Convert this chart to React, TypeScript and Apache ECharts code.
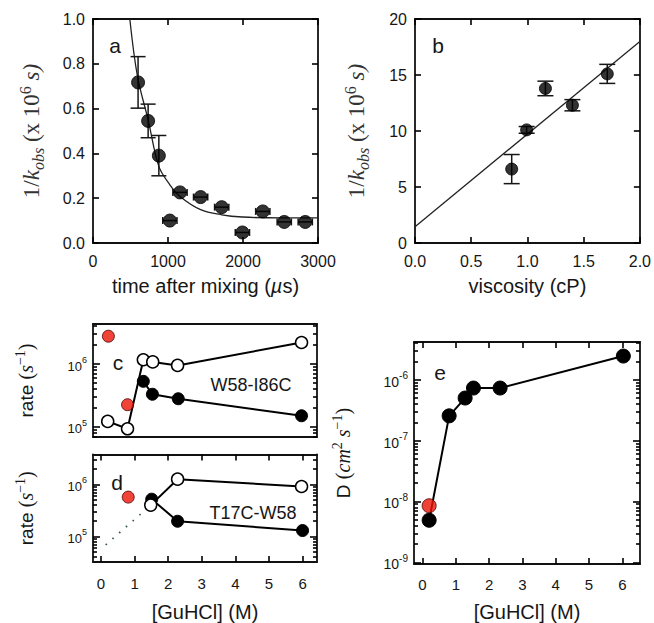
import React, { useEffect, useRef } from 'react';
import * as echarts from 'echarts';

// ---------- Panel a ----------
const aTime = [601, 735, 878, 1025, 1160, 1435, 1716, 1992, 2264, 2550, 2830];
const aInvK = [0.717, 0.545, 0.39, 0.1, 0.226, 0.205, 0.16, 0.047, 0.141, 0.094, 0.094];
const aYErr = [0.115, 0.075, 0.09, 0, 0, 0, 0, 0, 0, 0, 0];
const aXErr = [0, 0, 0, 95, 95, 95, 95, 95, 95, 95, 95];
const aFitTime = [491, 593, 735, 878, 1025, 1160, 1435, 1716, 1992, 2500, 3000];
const aFitInvK = [1.0, 0.744, 0.55, 0.342, 0.26, 0.208, 0.149, 0.126, 0.116, 0.112, 0.112];

// ---------- Panel b ----------
const bVisc = [0.86, 0.993, 1.16, 1.4, 1.71];
const bInvK = [6.6, 10.1, 13.8, 12.3, 15.1];
const bYErr = [1.3, 0.3, 0.65, 0.5, 0.85];
const bFitVisc = [0, 2];
const bFitInvK = [1.45, 18.0];

// ---------- Panel c (W58-I86C) ----------
const cOpenM = [0.2, 0.79, 1.26, 1.54, 2.28, 5.97];
const cOpenRate = [1.22e5, 0.93e5, 1.17e6, 1.08e6, 0.95e6, 2.2e6];
const cFilledM = [1.26, 1.53, 2.3, 5.97];
const cFilledRate = [5.3e5, 3.3e5, 2.8e5, 1.5e5];
const cRedM = [0.22, 0.79];
const cRedRate = [2.77e6, 2.25e5];

// ---------- Panel d (T17C-W58) ----------
const dDotM = [0.14, 1.48];
const dDotRate = [6.9e4, 4.0e5];
const dOpenM = [1.48, 2.28, 5.97];
const dOpenRate = [4.0e5, 1.26e6, 9.1e5];
const dFilledM = [1.51, 2.28, 6.0];
const dFilledRate = [5.2e5, 1.96e5, 1.3e5];
const dRedM = [0.81];
const dRedRate = [5.7e5];

// ---------- Panel e ----------
const eM = [0.2, 0.8, 1.28, 1.53, 2.33, 6.03];
const eD = [4.9e-9, 2.55e-7, 5.0e-7, 7.3e-7, 7.3e-7, 2.45e-6];
const eRedM = [0.2];
const eRedD = [8.5e-9];

// ---------- Tick values ----------
const aXTicks = [0, 1000, 2000, 3000];
const aYTicks = [0, 0.2, 0.4, 0.6, 0.8, 1.0];
const bXTicks = [0, 0.5, 1.0, 1.5, 2.0];
const bYTicks = [0, 5, 10, 15, 20];
const guTicks = [0, 1, 2, 3, 4, 5, 6];
const cMajor = [1e5, 1e6];
const cMinor = [7e4, 8e4, 9e4, 2e5, 3e5, 4e5, 5e5, 6e5, 7e5, 8e5, 9e5, 2e6, 3e6, 4e6];
const dMajor = [1e5, 1e6];
const dMinor = [4e4, 5e4, 6e4, 7e4, 8e4, 9e4, 2e5, 3e5, 4e5, 5e5, 6e5, 7e5, 8e5, 9e5, 2e6, 3e6];
const eMajor = [1e-9, 1e-8, 1e-7, 1e-6];
const eMinor = [
  2e-9, 3e-9, 4e-9, 5e-9, 6e-9, 7e-9, 8e-9, 9e-9,
  2e-8, 3e-8, 4e-8, 5e-8, 6e-8, 7e-8, 8e-8, 9e-8,
  2e-7, 3e-7, 4e-7, 5e-7, 6e-7, 7e-7, 8e-7, 9e-7,
  2e-6, 3e-6, 4e-6,
];

const SANS = '"Liberation Sans", Arial, Helvetica, sans-serif';
const SERIF = '"Liberation Serif", "DejaVu Serif", serif';
const INK = '#161616';
const RED = '#ee1508';

const zip = (xs: number[], ys: number[]) => xs.map((x, i) => [x, ys[i]]);

const powRich = (size: number) => ({
  b: { fontSize: size, fontFamily: SANS, color: INK, lineHeight: size + 4, verticalAlign: 'bottom' },
  s: { fontSize: Math.round(size * 0.68), fontFamily: SANS, color: INK, lineHeight: Math.round(size * 0.7), verticalAlign: 'top' },
});
const powFmt = (v: number) => `{b|10}{s|${Math.round(Math.log10(v))}}`;

const mathRich = (size: number, color = '#333') => ({
  n: { fontFamily: SERIF, fontSize: size, lineHeight: size + 6, color },
  r: { fontFamily: SANS, fontSize: 19, lineHeight: size + 6, color: INK },
  i: { fontFamily: SERIF, fontStyle: 'italic', fontSize: size, lineHeight: size + 6, color },
  sb: { fontFamily: SERIF, fontStyle: 'italic', fontSize: Math.round(size * 0.68), lineHeight: Math.round(size * 0.7), verticalAlign: 'bottom', color },
  sp: { fontFamily: SERIF, fontSize: Math.round(size * 0.68), lineHeight: Math.round(size * 0.7), verticalAlign: 'top', color },
});

const xNameStyle = {
  rich: {
    t: { fontFamily: SANS, fontSize: 20, color: INK },
    i: { fontFamily: SANS, fontStyle: 'italic', fontSize: 20, color: INK },
  },
};

const errorBars = (capPx: number) => (params: any, api: any) => {
  const x = api.value(0);
  const y = api.value(1);
  const xe = api.value(2);
  const ye = api.value(3);
  const style = { stroke: INK, lineWidth: 1.5 };
  const children: any[] = [];
  if (ye > 0) {
    const lo = api.coord([x, y - ye]);
    const hi = api.coord([x, y + ye]);
    children.push({ type: 'line', shape: { x1: lo[0], y1: lo[1], x2: hi[0], y2: hi[1] }, style });
    children.push({ type: 'line', shape: { x1: lo[0] - capPx / 2, y1: lo[1], x2: lo[0] + capPx / 2, y2: lo[1] }, style });
    children.push({ type: 'line', shape: { x1: hi[0] - capPx / 2, y1: hi[1], x2: hi[0] + capPx / 2, y2: hi[1] }, style });
  }
  if (xe > 0) {
    const l = api.coord([x - xe, y]);
    const r = api.coord([x + xe, y]);
    children.push({ type: 'line', shape: { x1: l[0], y1: l[1], x2: r[0], y2: r[1] }, style });
    children.push({ type: 'line', shape: { x1: l[0], y1: l[1] - 3.5, x2: l[0], y2: l[1] + 3.5 }, style });
    children.push({ type: 'line', shape: { x1: r[0], y1: r[1] - 3.5, x2: r[0], y2: r[1] + 3.5 }, style });
  }
  return { type: 'group', children };
};

const filledStyle = { color: '#000', borderColor: '#000', borderWidth: 1 };
const openStyle = { color: '#fff', borderColor: '#000', borderWidth: 1.5 };
const redStyle = { color: RED, borderColor: '#4a0000', borderWidth: 1 };

const cRange = [Math.pow(10, 4.838), Math.pow(10, 6.637)];
const dRange = [Math.pow(10, 4.51), Math.pow(10, 6.574)];
const eRange = [Math.pow(10, -9.028), Math.pow(10, -5.38)];
const guRange = [-0.238, 6.43];
const eGuRange = [-0.255, 6.53];

// Each axis is a fresh object (no shared sub-objects between axes).
function ax(o: any) {
  const ticks = o.ticks as number[] | null;
  const len = o.tickLen ?? 7;
  const line = o.line !== false;
  const out: any = {
    ...o,
    axisLine: line
      ? { show: true, onZero: false, lineStyle: { color: '#111', width: 1.8 } }
      : { show: false, onZero: false },
    splitLine: { show: false },
    axisTick: ticks
      ? { show: true, inside: true, length: len, customValues: ticks.slice(), lineStyle: { color: '#000', width: 1.6 } }
      : { show: false },
  };
  delete out.ticks;
  delete out.tickLen;
  delete out.line;
  if (!out.axisLabel) out.axisLabel = { show: false };
  return out;
}

const labelStyle = (size: number, margin: number, values: number[], formatter?: (v: number) => string) => ({
  show: true, customValues: values.slice(), fontSize: size, color: INK, fontFamily: SANS, margin,
  ...(formatter ? { formatter } : {}),
});

function logAxes(gridIndex: number, range: number[], major: number[], minor: number[], labelSize: number, name: string, nameGap: number, rich: any) {
  const common = { type: 'log', logBase: 10, gridIndex, min: range[0], max: range[1] };
  return [
    ax({
      ...common, position: 'left', ticks: major, tickLen: 7,
      axisLabel: { show: true, customValues: major.slice(), formatter: powFmt, rich: powRich(labelSize), margin: 6 },
      name, nameLocation: 'middle', nameGap, nameRotate: 90, nameTextStyle: { rich },
    }),
    ax({ ...common, position: 'right', ticks: major, tickLen: 7 }),
    ax({ ...common, position: 'left', ticks: minor, tickLen: 4, line: false }),
    ax({ ...common, position: 'right', ticks: minor, tickLen: 4, line: false }),
  ];
}

export default function App() {
  const ref = useRef<HTMLDivElement>(null);

  useEffect(() => {
    if (!ref.current) return;
    const chart = echarts.init(ref.current, null, { renderer: 'svg' });

    const kName = '{n|1/}{i|k}{sb|obs}{n| (x 10}{sp|6}{i| s)}';
    const rateName = '{r|rate }{n|(}{i|s}{sp|−1}{n|)}';
    const dName = '{r|D }{n|(}{i|cm}{sp|2}{i| s}{sp|−1}{n|)}';

    const option: any = {
      animation: false,
      backgroundColor: '#fff',
      grid: [
        { left: 93, top: 19, width: 225, height: 224 },
        { left: 415, top: 19, width: 225, height: 224 },
        { left: 93, top: 324, width: 224, height: 113 },
        { left: 93, top: 454.5, width: 224, height: 111.5 },
        { left: 414, top: 342, width: 226, height: 225 },
      ],
      xAxis: [
        ax({
          type: 'value', gridIndex: 0, position: 'bottom', min: 0, max: 3000, ticks: aXTicks, tickLen: 6,
          axisLabel: labelStyle(16, 10, aXTicks, (v) => String(v)),
          name: '{t|time after mixing (}{i|µ}{t|s)}', nameLocation: 'middle', nameGap: 33, nameTextStyle: xNameStyle,
        }),
        ax({ type: 'value', gridIndex: 0, position: 'top', min: 0, max: 3000, ticks: aXTicks, tickLen: 6 }),
        ax({
          type: 'value', gridIndex: 1, position: 'bottom', min: 0, max: 2, ticks: bXTicks, tickLen: 6,
          axisLabel: labelStyle(16, 10, bXTicks, (v) => v.toFixed(1)),
          name: '{t|viscosity (cP)}', nameLocation: 'middle', nameGap: 33, nameTextStyle: xNameStyle,
        }),
        ax({ type: 'value', gridIndex: 1, position: 'top', min: 0, max: 2, ticks: bXTicks, tickLen: 6 }),
        ax({ type: 'value', gridIndex: 2, position: 'bottom', min: guRange[0], max: guRange[1], ticks: null }),
        ax({
          type: 'value', gridIndex: 3, position: 'bottom', min: guRange[0], max: guRange[1], ticks: guTicks, tickLen: 6,
          axisLabel: labelStyle(15, 14, guTicks),
          name: '{t|[GuHCl] (M)}', nameLocation: 'middle', nameGap: 40, nameTextStyle: xNameStyle,
        }),
        ax({ type: 'value', gridIndex: 3, position: 'top', min: guRange[0], max: guRange[1], ticks: guTicks, tickLen: 6 }),
        ax({
          type: 'value', gridIndex: 4, position: 'bottom', min: eGuRange[0], max: eGuRange[1], ticks: guTicks, tickLen: 6,
          axisLabel: labelStyle(15, 13, guTicks),
          name: '{t|[GuHCl] (M)}', nameLocation: 'middle', nameGap: 38, nameTextStyle: xNameStyle,
        }),
        ax({ type: 'value', gridIndex: 4, position: 'top', min: eGuRange[0], max: eGuRange[1], ticks: guTicks, tickLen: 6 }),
        ax({ type: 'value', gridIndex: 2, position: 'top', min: guRange[0], max: guRange[1], ticks: null }),
      ],
      yAxis: [
        ax({
          type: 'value', gridIndex: 0, position: 'left', min: 0, max: 1, ticks: aYTicks, tickLen: 6,
          axisLabel: labelStyle(16, 8, aYTicks, (v) => v.toFixed(1)),
          name: kName, nameLocation: 'middle', nameGap: 47, nameRotate: 90, nameTextStyle: { rich: mathRich(23) },
        }),
        ax({ type: 'value', gridIndex: 0, position: 'right', min: 0, max: 1, ticks: aYTicks, tickLen: 6 }),
        ax({
          type: 'value', gridIndex: 1, position: 'left', min: 0, max: 20, ticks: bYTicks, tickLen: 6,
          axisLabel: labelStyle(16, 8, bYTicks),
          name: kName, nameLocation: 'middle', nameGap: 44, nameRotate: 90, nameTextStyle: { rich: mathRich(23) },
        }),
        ax({ type: 'value', gridIndex: 1, position: 'right', min: 0, max: 20, ticks: bYTicks, tickLen: 6 }),
        ...logAxes(2, cRange, cMajor, cMinor, 13, rateName, 54, mathRich(20, INK)),
        ...logAxes(3, dRange, dMajor, dMinor, 13, rateName, 54, mathRich(20, INK)),
        ...logAxes(4, eRange, eMajor, eMinor, 14, dName, 58, mathRich(20, INK)),
      ],
      series: [
        // a
        {
          type: 'line', xAxisIndex: 0, yAxisIndex: 0, data: zip(aFitTime, aFitInvK), smooth: 0.35,
          symbol: 'none', lineStyle: { color: '#222', width: 1.3 }, z: 2,
        },
        {
          type: 'custom', xAxisIndex: 0, yAxisIndex: 0, renderItem: errorBars(15),
          data: aTime.map((t, i) => [t, aInvK[i], aXErr[i], aYErr[i]]), encode: { x: 0, y: 1 }, z: 3,
        },
        {
          type: 'scatter', xAxisIndex: 0, yAxisIndex: 0, data: zip(aTime, aInvK), symbolSize: 13,
          itemStyle: filledStyle, z: 4,
        },
        // b
        {
          type: 'line', xAxisIndex: 2, yAxisIndex: 2, data: zip(bFitVisc, bFitInvK),
          symbol: 'none', lineStyle: { color: '#222', width: 1.3 }, z: 2,
        },
        {
          type: 'custom', xAxisIndex: 2, yAxisIndex: 2, renderItem: errorBars(16),
          data: bVisc.map((v, i) => [v, bInvK[i], 0, bYErr[i]]), encode: { x: 0, y: 1 }, z: 3,
        },
        {
          type: 'scatter', xAxisIndex: 2, yAxisIndex: 2, data: zip(bVisc, bInvK), symbolSize: 12,
          itemStyle: filledStyle, z: 4,
        },
        // c
        {
          type: 'line', xAxisIndex: 4, yAxisIndex: 4, data: zip(cFilledM, cFilledRate), symbol: 'circle',
          symbolSize: 12, itemStyle: filledStyle, lineStyle: { color: '#000', width: 2 }, z: 3,
        },
        {
          type: 'line', xAxisIndex: 4, yAxisIndex: 4, data: zip(cOpenM, cOpenRate), symbol: 'circle',
          symbolSize: 12, itemStyle: openStyle, lineStyle: { color: '#000', width: 2 }, z: 4,
        },
        {
          type: 'scatter', xAxisIndex: 4, yAxisIndex: 4, data: zip(cRedM, cRedRate), symbolSize: 12,
          itemStyle: redStyle, z: 5,
        },
        // d
        {
          type: 'line', xAxisIndex: 5, yAxisIndex: 8, data: zip(dDotM, dDotRate), symbol: 'none',
          lineStyle: { color: '#34574b', width: 1.8, type: [1.5, 7.5] }, z: 2,
        },
        {
          type: 'line', xAxisIndex: 5, yAxisIndex: 8, data: zip(dFilledM, dFilledRate), symbol: 'circle',
          symbolSize: 12, itemStyle: filledStyle, lineStyle: { color: '#000', width: 2 }, z: 3,
        },
        {
          type: 'line', xAxisIndex: 5, yAxisIndex: 8, data: zip(dOpenM, dOpenRate), symbol: 'circle',
          symbolSize: 12, itemStyle: openStyle, lineStyle: { color: '#000', width: 2 }, z: 4,
        },
        {
          type: 'scatter', xAxisIndex: 5, yAxisIndex: 8, data: zip(dRedM, dRedRate), symbolSize: 12,
          itemStyle: redStyle, z: 5,
        },
        // e
        {
          type: 'line', xAxisIndex: 7, yAxisIndex: 12, data: zip(eM, eD), symbol: 'circle',
          symbolSize: 14, itemStyle: filledStyle, lineStyle: { color: '#000', width: 2 }, z: 3,
        },
        {
          type: 'scatter', xAxisIndex: 7, yAxisIndex: 12, data: zip(eRedM, eRedD), symbolSize: 14,
          itemStyle: redStyle, z: 5,
        },
      ],
      graphic: [
        { type: 'text', x: 115, y: 45, z: 10, style: { text: 'a', font: `21px ${SANS}`, fill: INK, textAlign: 'center', textVerticalAlign: 'middle' } },
        { type: 'text', x: 438, y: 45, z: 10, style: { text: 'b', font: `21px ${SANS}`, fill: INK, textAlign: 'center', textVerticalAlign: 'middle' } },
        { type: 'text', x: 118, y: 362, z: 10, style: { text: 'c', font: `21px ${SANS}`, fill: INK, textAlign: 'center', textVerticalAlign: 'middle' } },
        { type: 'text', x: 117, y: 482, z: 10, style: { text: 'd', font: `21px ${SANS}`, fill: INK, textAlign: 'center', textVerticalAlign: 'middle' } },
        { type: 'text', x: 440, y: 372, z: 10, style: { text: 'e', font: `21px ${SANS}`, fill: INK, textAlign: 'center', textVerticalAlign: 'middle' } },
        { type: 'text', x: 251, y: 385, z: 10, style: { text: 'W58-I86C', font: `18px ${SANS}`, fill: INK, textAlign: 'center', textVerticalAlign: 'middle' } },
        { type: 'text', x: 253, y: 513, z: 10, style: { text: 'T17C-W58', font: `18px ${SANS}`, fill: INK, textAlign: 'center', textVerticalAlign: 'middle' } },
      ],
    };

    chart.setOption(option);
    return () => chart.dispose();
  }, []);

  return (
    <div
      ref={ref}
      style={{ position: 'fixed', left: 0, top: 0, width: 654, height: 623, background: '#fff' }}
    />
  );
}
